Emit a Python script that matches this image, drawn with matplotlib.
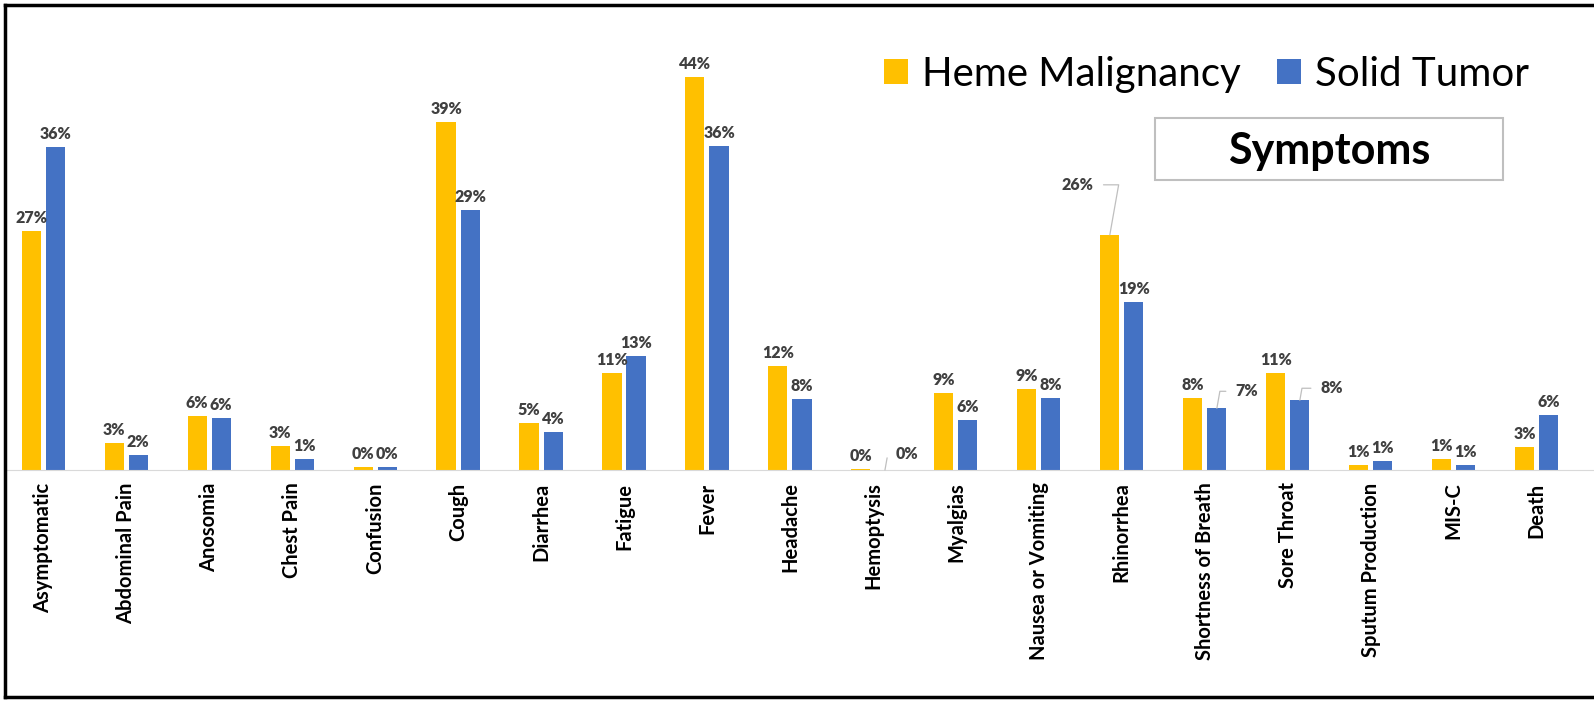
import numpy as np
import matplotlib.pyplot as plt
from matplotlib.lines import Line2D
from matplotlib.patches import Rectangle

symptoms = ['Asymptomatic', 'Abdominal Pain', 'Anosomia', 'Chest Pain', 'Confusion',
            'Cough', 'Diarrhea', 'Fatigue', 'Fever', 'Headache', 'Hemoptysis',
            'Myalgias', 'Nausea or Vomiting', 'Rhinorrhea', 'Shortness of Breath',
            'Sore Throat', 'Sputum Production', 'MIS-C', 'Death']
heme = [26.7, 3.0, 6.0, 2.7, 0.3, 38.9, 5.3, 10.9, 44.0, 11.6, 0.1,
        8.6, 9.1, 26.3, 8.1, 10.9, 0.6, 1.2, 2.6]
solid = [36.1, 1.7, 5.8, 1.2, 0.3, 29.1, 4.3, 12.7, 36.2, 7.9, 0.0,
         5.6, 8.1, 18.8, 6.9, 7.8, 1.0, 0.6, 6.2]

# labels that Excel pushed aside with a leader line: (series, index) -> pixel offset
moved = {('h', 13): (-32, 50), ('s', 14): (30, 17), ('s', 15): (32, 12), ('s', 10): (22, 16)}

YEL = '#FFC000'
BLU = '#4472C4'
FONT = 'Lato'

fig = plt.figure(figsize=(15.94, 7.10), dpi=100)
ax = fig.add_axes([5/1594, 240/710, 1589/1594, 465/710])

x = np.arange(len(symptoms))
w = 0.23
off = 0.145
b1 = ax.bar(x - off, heme, w, color=YEL, label='Heme Malignancy')
b2 = ax.bar(x + off, solid, w, color=BLU, label='Solid Tumor')

for key, bars, vals in (('h', b1, heme), ('s', b2, solid)):
    for i, (b, v) in enumerate(zip(bars, vals)):
        cx = b.get_x() + b.get_width() / 2
        txt = '%d%%' % round(v)
        if (key, i) in moved:
            dx, dy = moved[(key, i)]
            ax.annotate(txt, (cx, v), xytext=(dx, dy), textcoords='offset pixels',
                        ha='center', va='center', fontsize=11.5, fontweight='heavy',
                        family=FONT, color='#404040',
                        arrowprops=dict(arrowstyle='-', color='#BFBFBF', lw=0.9,
                                        connectionstyle='angle,angleA=0,angleB=80,rad=0',
                                        shrinkA=5, shrinkB=0))
        else:
            ax.annotate(txt, (cx, v), xytext=(0, 5), textcoords='offset pixels',
                        ha='center', va='bottom', fontsize=11.5, fontweight='heavy',
                        family=FONT, color='#404040')

ax.set_xlim(-0.46, 18.69)
ax.set_ylim(0, 52)
ax.set_xticks(x)
ax.set_xticklabels(symptoms, rotation=90, fontsize=14.5, fontweight='bold', family=FONT)
ax.tick_params(axis='x', length=0, pad=9)
ax.set_yticks([])
for s in ['top', 'right', 'left']:
    ax.spines[s].set_visible(False)
ax.spines['bottom'].set_color('#D9D9D9')

ax.legend(loc='upper right', bbox_to_anchor=(0.977, 0.952), ncol=2, frameon=False,
          prop={'family': FONT, 'size': 29}, handlelength=0.6, handleheight=0.6,
          handletextpad=0.35, columnspacing=0.9, borderaxespad=0.3)

# title box
fig.add_artist(Rectangle((1155/1594, 1 - 180/710), 348/1594, 62/710, transform=fig.transFigure,
                         fc='white', ec='#BFBFBF', lw=1.5))
fig.text((1155 + 1503) / 2 / 1594, 1 - 151 / 710, 'Symptoms', ha='center', va='center',
         fontsize=31, fontweight='bold', family=FONT)

# outer frame of the screenshot
fig.add_artist(Line2D([5/1594, 5/1594], [13/710, 705/710], color='black', lw=2.5))
fig.add_artist(Line2D([5/1594, 1], [705/710, 705/710], color='black', lw=2.5))
fig.add_artist(Line2D([5/1594, 1], [13/710, 13/710], color='black', lw=2.5))

fig.savefig('out.png', dpi=100)
